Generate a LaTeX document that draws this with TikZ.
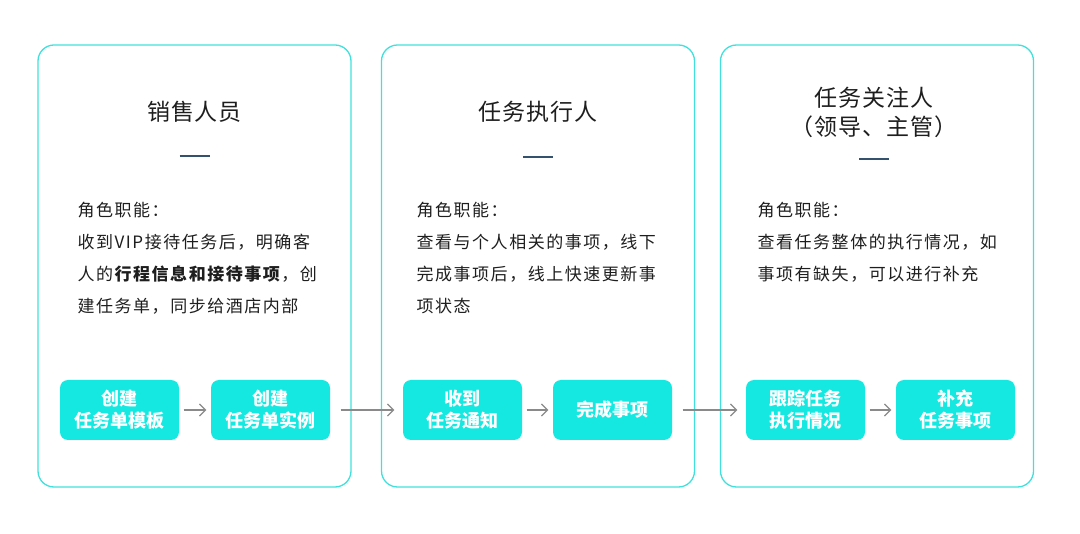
\documentclass[tikz,border=0pt]{standalone}
\usepackage{fontspec}
\setmainfont{Noto Sans CJK SC}
\usetikzlibrary{arrows.meta, positioning}
\definecolor{cframe}{HTML}{40E0DC}
\definecolor{cbtn}{HTML}{15E8E1}
\definecolor{cbar}{HTML}{34526E}
\definecolor{carrow}{HTML}{8A8A8A}
\definecolor{ctext}{HTML}{1E1E1E}
\tikzset{
  every picture/.style={line width=1.2pt},
  panel/.style={draw=cframe, line width=1.3pt, rounded corners=16pt, minimum width=313pt, minimum height=442pt},
  role/.style={font=\fontsize{23}{29}\selectfont\addfontfeature{LetterSpace=4}, text=ctext, align=center},
  duty/.style={font=\fontsize{17}{32}\selectfont\addfontfeature{LetterSpace=9}, text=ctext, align=left, anchor=north west, inner sep=0pt},
  btn/.style={fill=cbtn, rounded corners=8pt, minimum width=119pt, minimum height=60pt, inner sep=0pt, font=\fontsize{18}{22}\selectfont\bfseries, text=white, align=center},
  arrow/.style={-{Straight Barb[length=6pt, width=12pt]}, draw=carrow, line width=1.3pt},
  bar/.style={draw=cbar, line width=2pt},
}

\begin{document}
\begin{tikzpicture}[x=1pt, y=-1pt]
  \useasboundingbox (0,0) rectangle (1080,534);
  % sales
  \node[panel] (p1) at (194.5,266) {};
  \node[role] (t1) at (194.5,112) {销售人员};
  \draw[bar] (179.5,156) -- (209.5,156);
  \node[duty] (d1) at (77,202) {角色职能：\\收到VIP接待任务后，明确客\\人的\textbf{行程信息和接待事项}，创\\建任务单，同步给酒店内部};
  \node[btn] (b1) at (119.5,410) {创建\\任务单模板};
  \node[btn] (b2) at (270.5,410) {创建\\任务单实例};
  % executor
  \node[panel] (p2) at (538,266) {};
  \node[role] (t2) at (538,112) {任务执行人};
  \draw[bar] (523,157) -- (553,157);
  \node[duty] (d2) at (416,202) {角色职能：\\查看与个人相关的事项，线下\\完成事项后，线上快速更新事\\项状态};
  \node[btn] (b3) at (462.5,410) {收到\\任务通知};
  \node[btn] (b4) at (612.5,410) {完成事项};
  % watcher
  \node[panel] (p3) at (877,266) {};
  \node[role] (t3) at (874,112) {任务关注人\\（领导、主管）};
  \draw[bar] (859,159) -- (889,159);
  \node[duty] (d3) at (757,202) {角色职能：\\查看任务整体的执行情况，如\\事项有缺失，可以进行补充};
  \node[btn] (b5) at (805.5,410) {跟踪任务\\执行情况};
  \node[btn] (b6) at (955.5,410) {补充\\任务事项};
  % flow
  \draw[arrow, shorten <=4pt, shorten >=4pt] (b1) -- (b2);
  \draw[arrow, shorten <=10pt, shorten >=8pt] (b2) -- (b3);
  \draw[arrow, shorten <=4pt, shorten >=4pt] (b3) -- (b4);
  \draw[arrow, shorten <=10pt, shorten >=8pt] (b4) -- (b5);
  \draw[arrow, shorten <=4pt, shorten >=4pt] (b5) -- (b6);
\end{tikzpicture}
\end{document}
